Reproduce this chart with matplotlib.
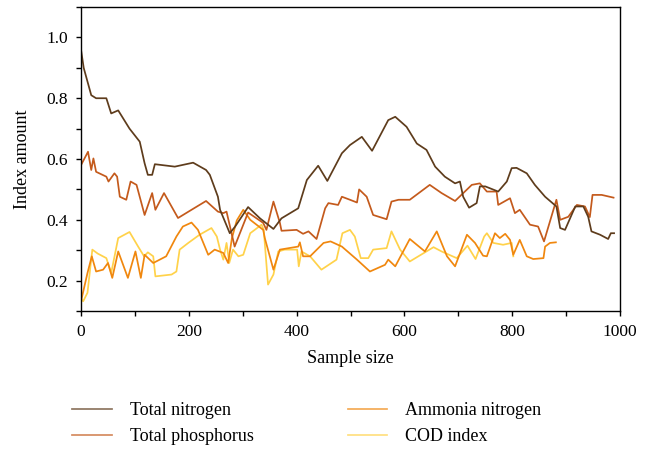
import matplotlib
matplotlib.use("Agg")
import matplotlib.pyplot as plt
from matplotlib.ticker import MultipleLocator

plt.rcParams['font.family'] = ['Liberation Serif', 'DejaVu Serif']

# Total nitrogen
tn_x = [0, 5, 19, 28, 47, 56, 69, 90, 109, 118, 124, 132, 137, 174, 208, 232, 239, 254,
        258, 276, 286, 310, 332, 357, 372, 403, 419, 440, 457, 484, 499, 521, 540, 570,
        583, 604, 623, 641, 657, 675, 694, 703, 709, 720, 734, 740, 750, 774, 790, 799,
        808, 827, 842, 861, 882, 889, 898, 917, 932, 941, 947, 963, 978, 983, 989]
tn_y = [0.96, 0.90, 0.81, 0.80, 0.80, 0.75, 0.76, 0.70, 0.657, 0.586, 0.548, 0.548, 0.583,
        0.575, 0.588, 0.564, 0.548, 0.476, 0.433, 0.356, 0.378, 0.442, 0.405, 0.37, 0.405,
        0.438, 0.531, 0.578, 0.528, 0.619, 0.646, 0.673, 0.627, 0.728, 0.739, 0.706, 0.651,
        0.63, 0.575, 0.542, 0.52, 0.526, 0.476, 0.44, 0.455, 0.51, 0.51, 0.493, 0.526,
        0.57, 0.571, 0.553, 0.515, 0.476, 0.444, 0.373, 0.367, 0.444, 0.444, 0.41, 0.362,
        0.351, 0.337, 0.356, 0.356]

# Total phosphorus
tp_x = [0, 13, 19, 23, 28, 47, 51, 62, 67, 72, 84, 92, 103, 118, 132, 138, 154, 180, 205,
        232, 254, 264, 270, 285, 310, 338, 344, 357, 369, 372, 400, 412, 422, 437, 453,
        459, 477, 484, 499, 512, 516, 530, 542, 567, 576, 589, 610, 647, 669, 694, 725,
        740, 753, 771, 774, 796, 805, 814, 833, 848, 859, 882, 889, 904, 920, 935, 944,
        949, 966, 988]
tp_y = [0.58, 0.624, 0.564, 0.602, 0.558, 0.542, 0.526, 0.553, 0.542, 0.476, 0.466, 0.526,
        0.515, 0.416, 0.488, 0.433, 0.488, 0.406, 0.433, 0.462, 0.427, 0.422, 0.427, 0.312,
        0.424, 0.39, 0.367, 0.46, 0.39, 0.364, 0.367, 0.354, 0.362, 0.337, 0.438, 0.455,
        0.449, 0.476, 0.466, 0.457, 0.5, 0.476, 0.416, 0.402, 0.46, 0.466, 0.466, 0.515,
        0.488, 0.462, 0.515, 0.52, 0.493, 0.493, 0.449, 0.471, 0.422, 0.433, 0.384, 0.378,
        0.329, 0.466, 0.40, 0.41, 0.449, 0.444, 0.409, 0.482, 0.482, 0.473]

# Ammonia nitrogen
an_x = [0, 12, 20, 28, 41, 50, 58, 69, 87, 101, 111, 118, 134, 158, 177, 189, 205, 217,
        236, 248, 264, 273, 280, 289, 301, 314, 338, 341, 357, 369, 403, 406, 412, 425,
        450, 463, 484, 512, 536, 564, 570, 583, 610, 638, 660, 679, 694, 716, 731, 746,
        753, 768, 777, 787, 796, 802, 814, 827, 839, 858, 861, 870, 881]
an_y = [0.132, 0.225, 0.28, 0.23, 0.236, 0.258, 0.209, 0.296, 0.209, 0.296, 0.209, 0.285,
        0.258, 0.28, 0.345, 0.378, 0.391, 0.367, 0.285, 0.302, 0.291, 0.258, 0.34, 0.398,
        0.433, 0.40, 0.367, 0.34, 0.236, 0.302, 0.312, 0.326, 0.28, 0.28, 0.324, 0.329,
        0.312, 0.269, 0.23, 0.252, 0.269, 0.247, 0.337, 0.296, 0.362, 0.28, 0.247, 0.351,
        0.324, 0.282, 0.28, 0.356, 0.34, 0.354, 0.334, 0.285, 0.334, 0.28, 0.271, 0.274,
        0.312, 0.324, 0.326]

# COD index
cod_x = [0, 4, 12, 21, 31, 47, 56, 69, 90, 106, 117, 124, 134, 138, 168, 177, 183, 199,
         220, 242, 252, 258, 264, 270, 275, 282, 292, 301, 314, 335, 339, 347, 357, 366,
         378, 401, 404, 409, 425, 446, 474, 485, 499, 508, 519, 533, 542, 567, 576, 592,
         610, 654, 669, 697, 717, 732, 748, 753, 765, 783, 799, 802]
cod_y = [0.14, 0.132, 0.16, 0.302, 0.289, 0.274, 0.225, 0.34, 0.36, 0.312, 0.28, 0.293,
         0.28, 0.214, 0.22, 0.23, 0.302, 0.324, 0.351, 0.373, 0.345, 0.302, 0.269, 0.324,
         0.258, 0.302, 0.28, 0.285, 0.356, 0.384, 0.367, 0.187, 0.22, 0.296, 0.302, 0.302,
         0.247, 0.296, 0.28, 0.236, 0.269, 0.356, 0.367, 0.345, 0.274, 0.274, 0.302, 0.307,
         0.362, 0.302, 0.263, 0.31, 0.296, 0.274, 0.315, 0.271, 0.345, 0.356, 0.324, 0.318,
         0.324, 0.28]

names = ["Total nitrogen", "Total phosphorus", "Ammonia nitrogen", "COD index"]
colors = ["#5e3c1c", "#c45a1c", "#f0870e", "#ffd24a"]

fig = plt.figure(figsize=(6.57, 4.49), dpi=100)
ax = fig.add_axes([0.1233, 0.3073, 0.8204, 0.677])

series = [(tn_x, tn_y), (tp_x, tp_y), (an_x, an_y), (cod_x, cod_y)]
# yellow first so the darker lines sit on top
handles = {}
for i in [3, 2, 1, 0]:
    x, y = series[i]
    ln, = ax.plot(x, y, color=colors[i], lw=1.25, label=names[i])
    handles[i] = ln

ax.set_xlim(0, 1000)
ax.set_ylim(0.1, 1.1)
ax.xaxis.set_major_locator(MultipleLocator(200))
ax.xaxis.set_minor_locator(MultipleLocator(100))
ax.yaxis.set_minor_locator(MultipleLocator(0.1))
ax.set_yticks([0.2, 0.4, 0.6, 0.8, 1.0])
ax.tick_params(which='both', direction='out', length=3.5, width=1, labelsize=12.5, pad=6)
ax.tick_params(which='both', top=False, right=False)
for s in ax.spines.values():
    s.set_linewidth(1.0)
ax.set_xlabel("Sample size", fontsize=13, labelpad=7)
ax.set_ylabel("Index amount", fontsize=13, labelpad=11)

leg = fig.legend([handles[i] for i in range(4)], names,
                 loc='upper left', bbox_to_anchor=(0.085, 0.14), ncol=2,
                 frameon=False, fontsize=13, handlelength=2.2, handletextpad=1.0,
                 columnspacing=5.2, labelspacing=0.5)
for h in leg.legend_handles:
    h.set_alpha(0.7)

fig.savefig("out.png", dpi=100)
